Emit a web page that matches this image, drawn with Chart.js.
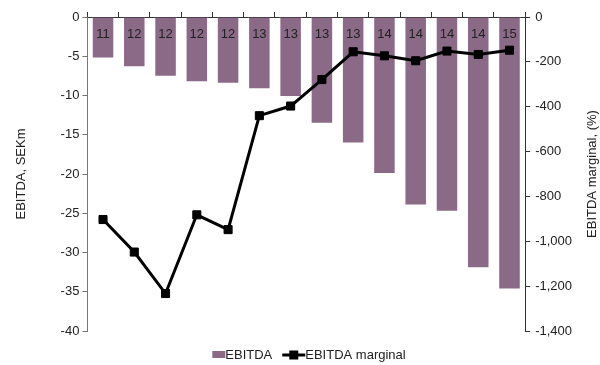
<!DOCTYPE html>
<html>
<head>
  <title>EBITDA</title>
  <script src="https://cdn.jsdelivr.net/npm/chart.js"></script>
  <style>
    html, body { margin: 0; padding: 0; background: #fff; }
    #wrap { width: 600px; height: 365px; }
  </style>
</head>
<body>
  <div id="wrap"><canvas id="ebitdaChart"></canvas></div>

  <script>
    const categories = ['11', '12', '12', '12', '12', '13', '13', '13', '13', '14', '14', '14', '14', '15'];
    const ebitda = [-5.3, -6.4, -7.6, -8.3, -8.5, -9.2, -10.2, -13.6, -16.1, -20.0, -24.0, -24.8, -32.0, -34.7];
    const ebitdaMarginal = [-903, -1048, -1233, -882, -948, -440, -397, -279, -155, -173, -195, -152, -167, -148];
    const seriesNames = ['EBITDA', 'EBITDA marginal'];
    const rightTitle = 'EBITDA marginal, (%)';

    const FONT = '"Liberation Sans", Arial, sans-serif';
    const BAR_COLOR = '#8b6a87';
    const TEXT = '#222';

    // period labels under the zero line, right axis title, legend
    const extras = {
      id: 'extras',
      afterDatasetsDraw(chart) {
        const { ctx, chartArea, scales } = chart;
        ctx.save();
        ctx.font = '13px ' + FONT;
        ctx.fillStyle = TEXT;
        ctx.textAlign = 'center';
        ctx.textBaseline = 'middle';
        categories.forEach((c, i) => {
          ctx.fillText(c, scales.x.getPixelForValue(i), chartArea.top + 17);
        });
        ctx.restore();
      },
      afterDraw(chart) {
        const { ctx, chartArea } = chart;
        ctx.save();
        ctx.font = '13px ' + FONT;
        ctx.fillStyle = TEXT;
        ctx.textBaseline = 'middle';

        // right axis title, reading bottom to top
        ctx.save();
        ctx.translate(592, (chartArea.top + chartArea.bottom) / 2);
        ctx.rotate(-Math.PI / 2);
        ctx.textAlign = 'center';
        ctx.fillText(rightTitle, 0, 0);
        ctx.restore();

        // legend
        const w0 = ctx.measureText(seriesNames[0]).width;
        const w1 = ctx.measureText(seriesNames[1]).width;
        const total = 13 + w0 + 10 + 23 + w1;
        let x = 309 - total / 2;
        const y = 355;
        ctx.textAlign = 'left';
        ctx.fillStyle = BAR_COLOR;
        ctx.fillRect(x, y - 4, 13, 7);
        x += 13;
        ctx.fillStyle = TEXT;
        ctx.fillText(seriesNames[0], x, y);
        x += w0 + 10;
        ctx.strokeStyle = '#000';
        ctx.lineWidth = 3;
        ctx.beginPath(); ctx.moveTo(x, y); ctx.lineTo(x + 23, y); ctx.stroke();
        ctx.fillStyle = '#000';
        ctx.fillRect(x + 7, y - 4.5, 9, 9);
        x += 23;
        ctx.fillStyle = TEXT;
        ctx.fillText(seriesNames[1], x, y);
        ctx.restore();
      }
    };

    new Chart(document.getElementById('ebitdaChart'), {
      data: {
        labels: categories,
        datasets: [
          {
            type: 'bar',
            label: seriesNames[0],
            data: ebitda,
            yAxisID: 'y',
            backgroundColor: BAR_COLOR,
            borderColor: 'rgba(255,255,255,0.7)',
            borderWidth: 1,
            categoryPercentage: 1,
            barPercentage: 0.72,
            order: 1
          },
          {
            type: 'line',
            label: seriesNames[1],
            data: ebitdaMarginal,
            yAxisID: 'y1',
            borderColor: '#000',
            backgroundColor: '#000',
            borderWidth: 3,
            pointStyle: 'rect',
            pointRadius: 5.7,
            pointBorderWidth: 1,
            tension: 0,
            order: 0
          }
        ]
      },
      options: {
        responsive: true,
        maintainAspectRatio: false,
        animation: false,
        layout: { padding: { left: 14, right: 23, top: 12, bottom: 34 } },
        plugins: {
          tooltip: { enabled: false },
          legend: { display: false }
        },
        scales: {
          x: {
            position: 'top',
            offset: true,
            border: { color: '#333', width: 1 },
            grid: { display: true, drawOnChartArea: false, drawTicks: true, tickLength: 5, offset: true, color: '#333' },
            ticks: { display: false }
          },
          y: {
            position: 'left',
            min: -40,
            max: 0,
            border: { color: '#777', width: 1 },
            grid: { drawOnChartArea: false, tickLength: 5, color: '#777' },
            ticks: { stepSize: 5, color: TEXT, padding: 3, font: { family: FONT, size: 13 } },
            title: { display: true, text: 'EBITDA, SEKm', color: TEXT, padding: { top: 0, bottom: 28 }, font: { family: FONT, size: 13 } }
          },
          y1: {
            position: 'right',
            min: -1400,
            max: 0,
            border: { color: '#333', width: 1 },
            grid: { drawOnChartArea: false, tickLength: 5, color: '#333' },
            ticks: { stepSize: 200, color: TEXT, padding: 5, font: { family: FONT, size: 13 } }
          }
        }
      },
      plugins: [extras]
    });
  </script>
</body>
</html>
